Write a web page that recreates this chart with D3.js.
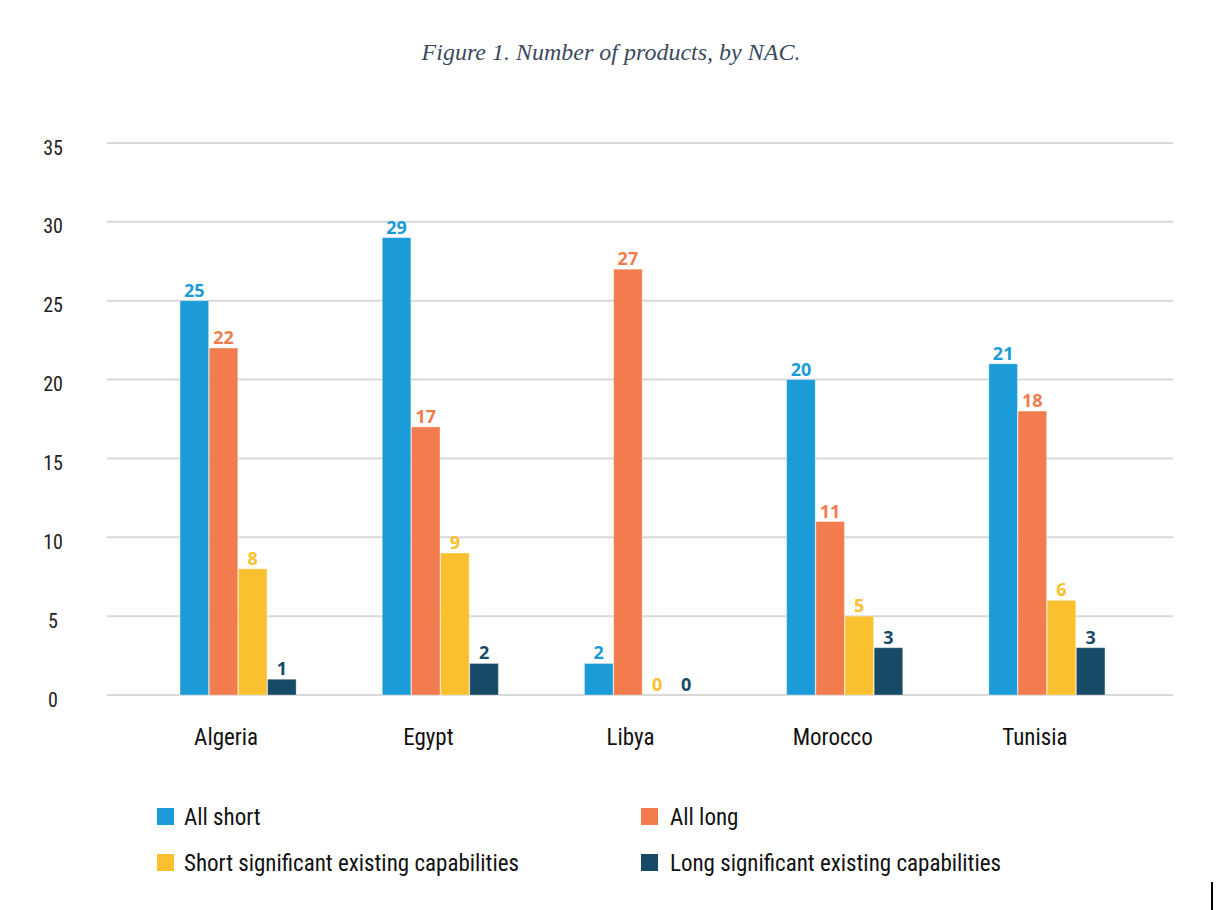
<!DOCTYPE html>
<html><head><meta charset="utf-8">
<script src="https://cdn.jsdelivr.net/npm/d3@7"></script>
<style>
body{margin:0;background:#fff;}
svg{display:block;}
</style></head>
<body><svg id="chart" width="1218" height="910"></svg>
<script>
const categories = ["Algeria","Egypt","Libya","Morocco","Tunisia"];
const seriesNames = ["All short","All long","Short significant existing capabilities","Long significant existing capabilities"];
const allShort = [25,29,2,20,21];
const allLong = [22,17,27,11,18];
const shortSig = [8,9,0,5,6];
const longSig = [1,2,0,3,3];
const yTicks = [0,5,10,15,20,25,30,35];
const colors = ["#1b9cd8","#f27c4e","#fbc02d","#174a66"];
const series = [allShort, allLong, shortSig, longSig];

const svg = d3.select("#chart");
const condensed = "'Liberation Sans Narrow','Arial Narrow','Roboto Condensed','Roboto',sans-serif";

svg.append("text").attr("x",611).attr("y",60).attr("text-anchor","middle")
  .attr("font-family","'Liberation Serif','DejaVu Serif',serif").attr("font-style","italic")
  .attr("font-size",24).attr("fill","#3b4a5e").text("Figure 1. Number of products, by NAC.");

const y = d3.scaleLinear().domain([0,35]).range([695,143]);
const x0 = d3.scaleBand().domain(categories).range([137,1148]).paddingInner(0.42).paddingOuter(0.21);
const x1 = d3.scaleBand().domain(d3.range(4)).range([0,x0.bandwidth()]).padding(0.02);

// grid
svg.append("g").selectAll("line").data(yTicks).join("line")
  .attr("x1",107).attr("x2",1173).attr("y1",d=>y(d)).attr("y2",d=>y(d))
  .attr("stroke","#d9d9d9").attr("stroke-width",2);

// y labels
const yAxis = d3.axisLeft(y).tickValues(yTicks).tickSize(0).tickPadding(0);
const ya = svg.append("g").attr("transform","translate(60,0)").call(yAxis);
ya.select(".domain").remove();
ya.selectAll("text").attr("font-family",condensed).attr("font-size",20).attr("fill","#222").attr("dy","0.55em").attr("text-anchor","middle").attr("x",-7);

// x labels
const xAxis = d3.axisBottom(x0).tickSize(0).tickPadding(0);
const xa = svg.append("g").attr("transform","translate(-12,745)").call(xAxis);
xa.select(".domain").remove();
xa.selectAll("text").attr("font-family",condensed).attr("font-size",23).attr("fill","#111").attr("dy","0");

const groups = svg.append("g").selectAll("g").data(categories).join("g")
  .attr("transform",c=>`translate(${x0(c)},0)`);

groups.each(function(c,ci){
  const g = d3.select(this);
  series.forEach((s,si)=>{
    const v = s[ci];
    if(v>0){
      g.append("rect").attr("x",x1(si)).attr("width",x1.bandwidth())
        .attr("y",y(v)).attr("height",y(0)-y(v)).attr("fill",colors[si])
        .attr("stroke","#ffffff").attr("stroke-opacity",0.35).attr("stroke-width",1);
    }
    g.append("text").attr("x",x1(si)+x1.bandwidth()/2).attr("y",y(v)-4)
      .attr("text-anchor","middle").attr("font-family","'Open Sans',sans-serif")
      .attr("font-weight","bold").attr("font-size",18).attr("fill",colors[si]).text(v);
  });
});

// legend
const legPos = [[157,817],[641,817],[157,863],[641,863]];
const leg = svg.append("g").selectAll("g").data(seriesNames).join("g")
  .attr("transform",(d,i)=>`translate(${legPos[i][0]},${legPos[i][1]})`);
leg.append("rect").attr("x",0).attr("y",-9).attr("width",17).attr("height",17).attr("fill",(d,i)=>colors[i]);
leg.append("text").attr("x",(d,i)=>i%2===0?27:29).attr("y",8).attr("font-family",condensed)
  .attr("font-size",23).attr("fill","#111").text(d=>d);

svg.append("line").attr("x1",1212).attr("x2",1212).attr("y1",882).attr("y2",910).attr("stroke","#000").attr("stroke-width",2);
</script></body></html>
